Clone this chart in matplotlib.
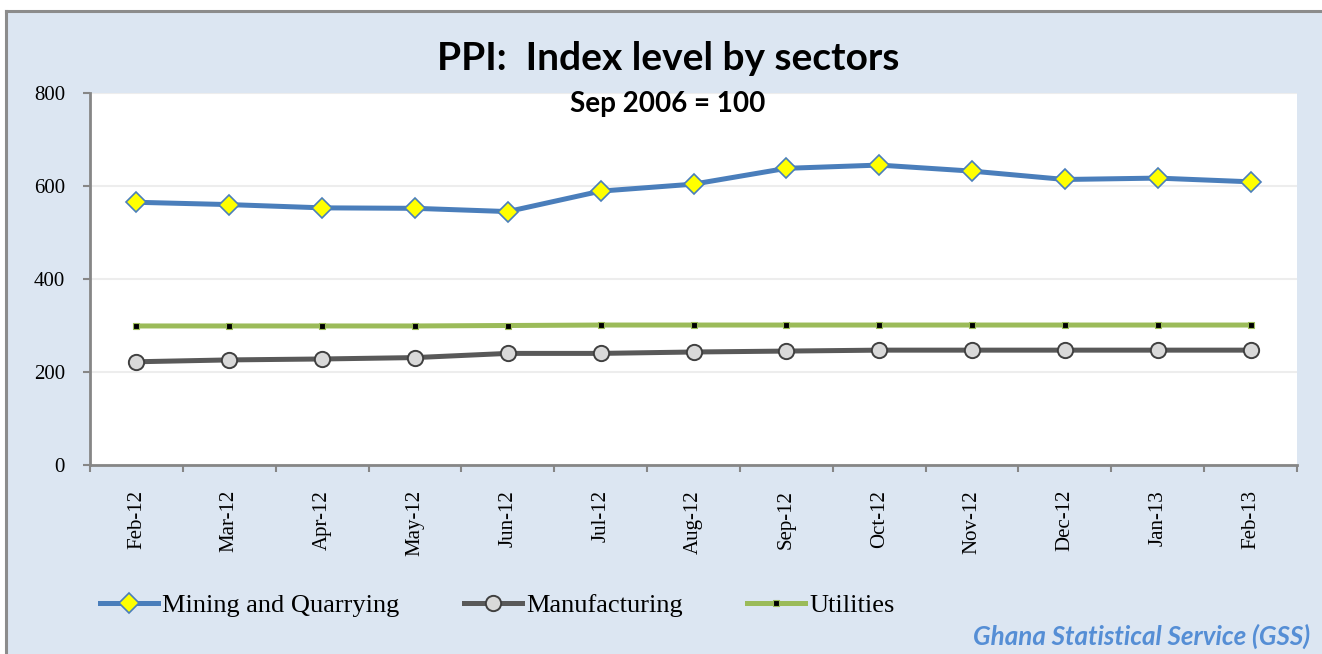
import matplotlib
matplotlib.use("Agg")
import matplotlib.pyplot as plt
from matplotlib.lines import Line2D
from matplotlib.patches import Rectangle
import numpy as np

categories = ["Feb-12", "Mar-12", "Apr-12", "May-12", "Jun-12", "Jul-12", "Aug-12",
              "Sep-12", "Oct-12", "Nov-12", "Dec-12", "Jan-13", "Feb-13"]
mining = [565, 560, 553, 552, 545, 589, 604, 638, 645, 632, 614, 617, 609]
manufacturing = [222, 226, 228, 231, 240, 240, 243, 245, 247, 247, 247, 247, 247]
utilities = [299, 299, 299, 299, 300, 301, 301, 301, 301, 301, 301, 301, 301]
yticks = [0, 200, 400, 600, 800]

W, H = 1322, 654
fig = plt.figure(figsize=(W / 100, H / 100), dpi=100)
fig.patch.set_facecolor("white")

# background frame (fill + top/left border only)
bg = Rectangle((6 / W, 0), 1 - 6 / W, 1 - 11 / H, transform=fig.transFigure,
               facecolor="#DCE6F2", edgecolor="none", zorder=-10)
fig.patches.append(bg)
fig.lines.append(Line2D([6 / W, 1], [1 - 11 / H, 1 - 11 / H], transform=fig.transFigure,
                        color="#8C8C8C", lw=2.2, zorder=-9))
fig.lines.append(Line2D([6 / W, 6 / W], [0, 1 - 11 / H], transform=fig.transFigure,
                        color="#8C8C8C", lw=2.2, zorder=-9))

ax = fig.add_axes([90 / W, 1 - 465 / H, (1297 - 90) / W, (465 - 93) / H])
ax.set_facecolor("white")

x = np.arange(len(categories))
ax.plot(x, mining, color="#4A7EBB", lw=3.6, marker="D", markersize=10.5,
        markerfacecolor="#FFFF00", markeredgecolor="#4A7EBB", markeredgewidth=1.2,
        label="Mining and Quarrying", zorder=5)
ax.plot(x, manufacturing, color="#595959", lw=3.6, marker="o", markersize=11,
        markerfacecolor="#D9D9D9", markeredgecolor="#404040", markeredgewidth=1.4,
        label="Manufacturing", zorder=4)
ax.plot(x, utilities, color="#9BBB59", lw=3.6, marker="s", markersize=3.8,
        markerfacecolor="black", markeredgecolor="#9BBB59", markeredgewidth=0.8,
        label="Utilities", zorder=3)

ax.set_xlim(-0.5, len(categories) - 0.5)
ax.set_ylim(0, 800)
ax.set_yticks(yticks)
ax.set_yticklabels([str(v) for v in yticks], fontfamily="Liberation Serif", fontsize=15)
ax.yaxis.grid(True, color="#EDEDED", lw=1.5)
ax.set_axisbelow(True)

ax.set_xticks(x)
ax.set_xticklabels(categories, rotation=90, fontfamily="Liberation Serif", fontsize=15)
ax.tick_params(axis="x", which="major", length=0, pad=18)
ax.set_xticks(np.arange(-0.5, len(categories), 1), minor=True)
ax.tick_params(axis="x", which="minor", length=5, width=1.5, color="#868686", direction="out")
ax.tick_params(axis="y", length=5, width=1.5, color="#868686", direction="out", pad=13)

for s in ["top", "right"]:
    ax.spines[s].set_visible(False)
for s in ["left", "bottom"]:
    ax.spines[s].set_color("#868686")
    ax.spines[s].set_linewidth(2)

fig.text(668 / W, 1 - 58 / H, "PPI:  Index level by sectors", ha="center", va="center",
         fontfamily="Lato", fontweight="bold", fontsize=28)
fig.text(668 / W, 1 - 104 / H, "Sep 2006 = 100", ha="center", va="center",
         fontfamily="Lato", fontweight="bold", fontsize=20)

leg = fig.legend(loc="center left", bbox_to_anchor=(100 / W, 1 - 605 / H), ncol=3,
                 frameon=False, prop={"family": "Liberation Serif", "size": 19},
                 handlelength=2.2, handletextpad=0.15, columnspacing=2.45,
                 borderpad=0, borderaxespad=0)

fig.text(1310 / W, 1 - 636 / H, "Ghana Statistical Service (GSS)", ha="right", va="center",
         fontfamily="Lato", fontweight="bold", fontstyle="italic", fontsize=18.7,
         color="#558ED5")

fig.savefig("out.png", dpi=100, facecolor=fig.get_facecolor())
